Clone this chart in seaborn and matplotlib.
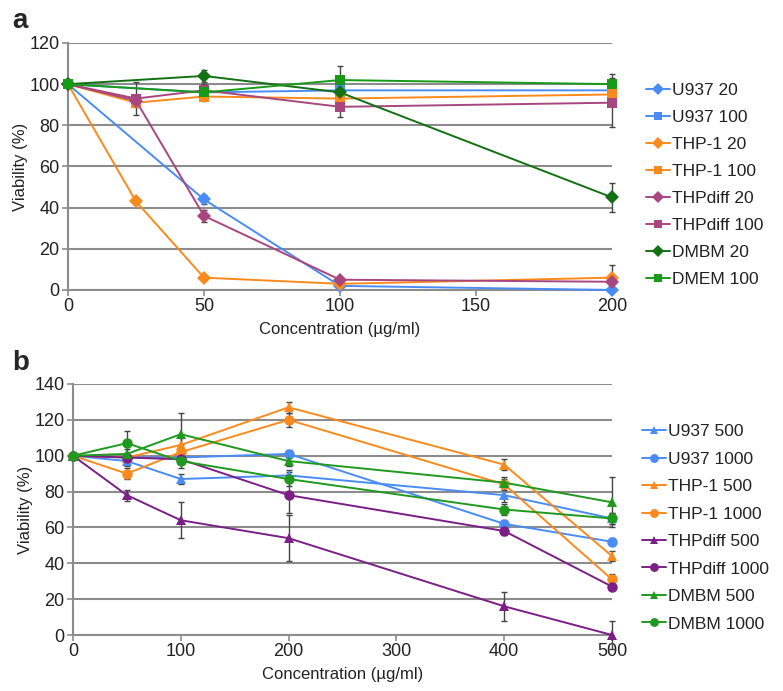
import matplotlib
matplotlib.use("Agg")
import matplotlib.pyplot as plt
import seaborn as sns
import numpy as np
import pandas as pd

sns.set_style("white")
plt.rcParams['font.family'] = ['Liberation Sans', 'DejaVu Sans']

# ---------------- Panel a data ----------------
a_labels = ["U937 20", "U937 100", "THP-1 20", "THP-1 100",
            "THPdiff 20", "THPdiff 100", "DMBM 20", "DMEM 100"]
a_x_u937_20 = [0, 50, 100, 200]
a_y_u937_20 = [100, 44, 2, 0]
a_e_u937_20 = [0, 2, 1, 1]
a_x_u937_100 = [0, 50, 100, 200]
a_y_u937_100 = [100, 96, 97, 97]
a_e_u937_100 = [0, 2, 2, 2]
a_x_thp_20 = [0, 25, 50, 100, 200]
a_y_thp_20 = [100, 43, 6, 3, 6]
a_e_thp_20 = [0, 1, 1, 1, 6]
a_x_thp_100 = [0, 25, 50, 100, 200]
a_y_thp_100 = [100, 91, 94, 93, 95]
a_e_thp_100 = [0, 2, 2, 2, 2]
a_x_diff_20 = [0, 25, 50, 100, 200]
a_y_diff_20 = [100, 92, 36, 5, 4]
a_e_diff_20 = [0, 2, 3, 1, 1]
a_x_diff_100 = [0, 25, 50, 100, 200]
a_y_diff_100 = [100, 93, 97, 89, 91]
a_e_diff_100 = [0, 8, 3, 5, 12]
a_x_dmbm_20 = [0, 50, 100, 200]
a_y_dmbm_20 = [100, 104, 96, 45]
a_e_dmbm_20 = [0, 3, 3, 7]
a_x_dmem_100 = [0, 50, 100, 200]
a_y_dmem_100 = [100, 96, 102, 100]
a_e_dmem_100 = [0, 3, 7, 5]

# ---------------- Panel b data ----------------
b_labels = ["U937 500", "U937 1000", "THP-1 500", "THP-1 1000",
            "THPdiff 500", "THPdiff 1000", "DMBM 500", "DMBM 1000"]
b_x = [0, 50, 100, 200, 400, 500]
b_y_u937_500 = [100, 97, 87, 89, 78, 65]
b_e_u937_500 = [1, 3, 3, 3, 4, 3]
b_y_u937_1000 = [100, 99, 99, 101, 62, 52]
b_e_u937_1000 = [1, 2, 2, 2, 2, 2]
b_y_thp_500 = [100, 99, 106, 127, 95, 44]
b_e_thp_500 = [1, 2, 4, 3, 3, 3]
b_y_thp_1000 = [100, 90, 102, 120, 84, 31]
b_e_thp_1000 = [1, 3, 4, 4, 3, 3]
b_y_diff_500 = [100, 78, 64, 54, 16, 0]
b_e_diff_500 = [1, 3, 10, 13, 8, 8]
b_y_diff_1000 = [100, 99, 98, 78, 58, 27]
b_e_diff_1000 = [1, 2, 2, 10, 2, 2]
b_y_dmbm_500 = [100, 101, 112, 97, 85, 74]
b_e_dmbm_500 = [1, 3, 12, 3, 3, 14]
b_y_dmbm_1000 = [100, 107, 97, 87, 70, 65]
b_e_dmbm_1000 = [1, 7, 4, 4, 3, 3]

BLUE = "#4a8cf5"
ORANGE = "#fb8a1c"
PINK = "#a8467f"
DKGREEN = "#137013"
GREEN = "#179a17"
PURPLE = "#7b1f86"
BGREEN = "#1f9a1f"
GRID = "#8c8c8c"

fig = plt.figure(figsize=(7.83, 6.91), dpi=100)
axA = fig.add_axes([68/783, 1-290/691, (612-68)/783, (290-43)/691])
axB = fig.add_axes([73/783, 1-635/691, (612-73)/783, (635-384)/691])


def style_axes(ax, ymax, ystep, xmax, xstep):
    ax.set_xlim(0, xmax)
    ax.set_ylim(0, ymax)
    ax.set_yticks(np.arange(0, ymax + 1, ystep))
    ax.set_xticks(np.arange(0, xmax + 1, xstep))
    ax.yaxis.grid(True, color=GRID, lw=1.5)
    ax.xaxis.grid(False)
    ax.set_axisbelow(True)
    for s in ["top", "right"]:
        ax.spines[s].set_visible(False)
    for s in ["left", "bottom"]:
        ax.spines[s].set_color(GRID)
        ax.spines[s].set_linewidth(1.5)
    ax.tick_params(axis="both", which="major", direction="out", length=4,
                   width=1.2, color=GRID, labelsize=13, pad=2,
                   bottom=True, left=True, labelcolor="#222222")
    ax.set_ylabel("Viability (%)", fontsize=12, labelpad=1, color="#222222")
    ax.set_xlabel("Concentration (µg/ml)", fontsize=12, labelpad=5, color="#222222")


def draw(ax, x, y, e, color, marker, ms, label):
    df = pd.DataFrame({"x": x, "y": y})
    sns.lineplot(data=df, x="x", y="y", ax=ax, color=color, marker=marker,
                 markersize=ms, markeredgewidth=0, lw=1.4, label=label,
                 estimator=None, clip_on=False, legend=False, zorder=3)
    ax.errorbar(x, y, yerr=e, fmt="none", ecolor="#444444", elinewidth=1,
                capsize=2.5, capthick=1, clip_on=False, zorder=2)


# Panel a
a_series = [
    (a_x_u937_20, a_y_u937_20, a_e_u937_20, BLUE, "D", 7),
    (a_x_u937_100, a_y_u937_100, a_e_u937_100, BLUE, "s", 7),
    (a_x_thp_20, a_y_thp_20, a_e_thp_20, ORANGE, "D", 7),
    (a_x_thp_100, a_y_thp_100, a_e_thp_100, ORANGE, "s", 7),
    (a_x_diff_20, a_y_diff_20, a_e_diff_20, PINK, "D", 7),
    (a_x_diff_100, a_y_diff_100, a_e_diff_100, PINK, "s", 7),
    (a_x_dmbm_20, a_y_dmbm_20, a_e_dmbm_20, DKGREEN, "D", 7),
    (a_x_dmem_100, a_y_dmem_100, a_e_dmem_100, GREEN, "s", 7),
]
for (x, y, e, c, m, ms), lab in zip(a_series, a_labels):
    draw(axA, x, y, e, c, m, ms, lab)
style_axes(axA, 120, 20, 200, 50)

# Panel b
b_series = [
    (b_y_u937_500, b_e_u937_500, BLUE, "^", 7.5),
    (b_y_u937_1000, b_e_u937_1000, BLUE, "o", 7.5),
    (b_y_thp_500, b_e_thp_500, ORANGE, "^", 7.5),
    (b_y_thp_1000, b_e_thp_1000, ORANGE, "o", 7.5),
    (b_y_diff_500, b_e_diff_500, PURPLE, "^", 7.5),
    (b_y_diff_1000, b_e_diff_1000, PURPLE, "o", 7.5),
    (b_y_dmbm_500, b_e_dmbm_500, BGREEN, "^", 7.5),
    (b_y_dmbm_1000, b_e_dmbm_1000, BGREEN, "o", 7.5),
]
for (y, e, c, m, ms), lab in zip(b_series, b_labels):
    draw(axB, b_x, y, e, c, m, ms, lab)
style_axes(axB, 140, 20, 500, 100)

# Legends
for ax, anchor, sp in [(axA, (646/783, 1-83/691), 0.68),
                       (axB, (642/783, 1-424/691), 0.71)]:
    h, l = ax.get_legend_handles_labels()
    leg = fig.legend(h, l, loc="upper left", bbox_to_anchor=anchor,
                     frameon=False, fontsize=12.5, handlelength=1.4,
                     handletextpad=0.1, labelspacing=sp, borderpad=0,
                     borderaxespad=0, markerscale=0.85)
    for t in leg.get_texts():
        t.set_color("#222222")

fig.text(12/783, 1-21/691, "a", fontsize=20, fontweight="bold", va="center", ha="left")
fig.text(12/783, 1-363/691, "b", fontsize=20, fontweight="bold", va="center", ha="left")

fig.savefig("out.png", dpi=100)
